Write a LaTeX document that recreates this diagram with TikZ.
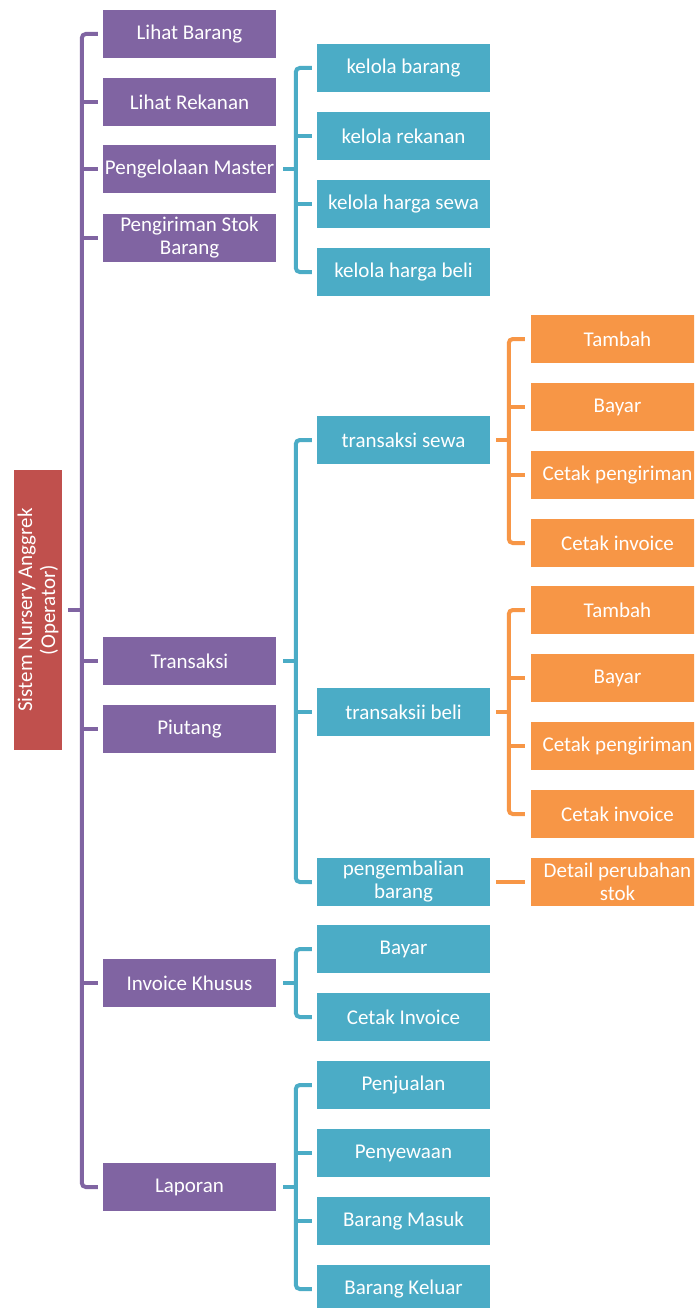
\documentclass[tikz,border=0pt]{standalone}
\usepackage{fontspec}
\setmainfont{Carlito}
\usetikzlibrary{calc}
\definecolor{cPurple}{HTML}{8064A2}
\definecolor{cTeal}{HTML}{4BACC6}
\definecolor{cOrange}{HTML}{F79646}
\definecolor{cRed}{HTML}{C0504D}
\begin{document}
\begin{tikzpicture}[x=1pt,y=-1pt,
  box/.style={rectangle,minimum width=173pt,minimum height=48pt,inner sep=0pt,
    text=white,align=center,font=\fontsize{21}{23}\selectfont},
  pbox/.style={box,fill=cPurple},
  tbox/.style={box,fill=cTeal},
  obox/.style={box,fill=cOrange},
  link/.style={line width=4pt,rounded corners=4pt},
  plink/.style={link,draw=cPurple},
  tlink/.style={link,draw=cTeal},
  olink/.style={link,draw=cOrange}]
\clip (0,0) rectangle (694,1308);
\fill[white] (0,0) rectangle (694,1308);

% root
\node[box,fill=cRed,minimum width=280pt,rotate=90] (root) at (38,610)
  {Sistem Nursery Anggrek\\(Operator)};

% first level
\node[pbox] (lb) at (189.5,34)    {Lihat Barang};
\node[pbox] (lr) at (189.5,102)   {Lihat Rekanan};
\node[pbox] (pm) at (189.5,169.5) {Pengelolaan Master};
\node[pbox] (ps) at (189.5,237.5) {Pengiriman Stok\\Barang};
\node[pbox] (tr) at (189.5,661)   {Transaksi};
\node[pbox] (pi) at (189.5,729)   {Piutang};
\node[pbox] (ik) at (189.5,983)   {Invoice Khusus};
\node[pbox] (la) at (189.5,1187)  {Laporan};

% master data
\node[tbox] (kb) at (403.5,68)  {kelola barang};
\node[tbox] (kr) at (403.5,136) {kelola rekanan};
\node[tbox] (ks) at (403.5,204) {kelola harga sewa};
\node[tbox] (kh) at (403.5,272) {kelola harga beli};

% transactions
\node[tbox] (ts) at (403.5,440) {transaksi sewa};
\node[tbox] (tb) at (403.5,712) {transaksii beli};
\node[tbox] (pb) at (403.5,882) {pengembalian\\barang};

% special invoice
\node[tbox] (ib) at (403.5,949)  {Bayar};
\node[tbox] (ic) at (403.5,1017) {Cetak Invoice};

% reports
\node[tbox] (lp) at (403.5,1085) {Penjualan};
\node[tbox] (lw) at (403.5,1153) {Penyewaan};
\node[tbox] (lm) at (403.5,1221) {Barang Masuk};
\node[tbox] (lk) at (403.5,1289) {Barang Keluar};

% rental steps
\node[obox] (s1) at (617.5,339) {Tambah};
\node[obox] (s2) at (617.5,407) {Bayar};
\node[obox] (s3) at (617.5,475) {Cetak pengiriman};
\node[obox] (s4) at (617.5,543) {Cetak invoice};

% purchase steps
\node[obox] (b1) at (617.5,610) {Tambah};
\node[obox] (b2) at (617.5,678) {Bayar};
\node[obox] (b3) at (617.5,746) {Cetak pengiriman};
\node[obox] (b4) at (617.5,814) {Cetak invoice};

% return detail
\node[obox] (ds) at (617.5,882) {Detail perubahan\\stok};

% bracket columns
\coordinate (barP) at ([xshift=-21pt]lb.west);
\coordinate (barM) at ([xshift=-21pt]kb.west);
\coordinate (barT) at ([xshift=-21pt]ts.west);
\coordinate (barI) at ([xshift=-21pt]ib.west);
\coordinate (barL) at ([xshift=-21pt]lp.west);
\coordinate (barS) at ([xshift=-22pt]s1.west);
\coordinate (barB) at ([xshift=-22pt]b1.west);

% root -> first level
\draw[plink] ([xshift=-5pt]lb.west) -- (barP) |- ([xshift=-5pt]la.west);
\foreach \n in {lr,pm,ps,tr,pi,ik}
  \draw[plink] ([xshift=-5pt]\n.west) -- (barP |- \n.west);
\draw[plink] ([xshift=6pt]root.south) -- (barP |- root.south);

% master data bracket
\draw[tlink] ([xshift=-5pt]kb.west) -- (barM) |- ([xshift=-5pt]kh.west);
\foreach \n in {kr,ks}
  \draw[tlink] ([xshift=-5pt]\n.west) -- (barM |- \n.west);
\draw[tlink] ([xshift=7pt]pm.east) -- (barM |- pm.east);

% transactions bracket
\draw[tlink] ([xshift=-5pt]ts.west) -- (barT) |- ([xshift=-5pt]pb.west);
\draw[tlink] ([xshift=-5pt]tb.west) -- (barT |- tb.west);
\draw[tlink] ([xshift=7pt]tr.east) -- (barT |- tr.east);

% special invoice bracket
\draw[tlink] ([xshift=-5pt]ib.west) -- (barI) |- ([xshift=-5pt]ic.west);
\draw[tlink] ([xshift=7pt]ik.east) -- (barI |- ik.east);

% reports bracket
\draw[tlink] ([xshift=-5pt]lp.west) -- (barL) |- ([xshift=-5pt]lk.west);
\foreach \n in {lw,lm}
  \draw[tlink] ([xshift=-5pt]\n.west) -- (barL |- \n.west);
\draw[tlink] ([xshift=7pt]la.east) -- (barL |- la.east);

% rental steps bracket
\draw[olink] ([xshift=-6pt]s1.west) -- (barS) |- ([xshift=-6pt]s4.west);
\foreach \n in {s2,s3}
  \draw[olink] ([xshift=-6pt]\n.west) -- (barS |- \n.west);
\draw[olink] ([xshift=6pt]ts.east) -- (barS |- ts.east);

% purchase steps bracket
\draw[olink] ([xshift=-6pt]b1.west) -- (barB) |- ([xshift=-6pt]b4.west);
\foreach \n in {b2,b3}
  \draw[olink] ([xshift=-6pt]\n.west) -- (barB |- \n.west);
\draw[olink] ([xshift=6pt]tb.east) -- (barB |- tb.east);

% return -> detail
\draw[olink] ([xshift=6pt]pb.east) -- ([xshift=-6pt]ds.west);
\end{tikzpicture}
\end{document}
